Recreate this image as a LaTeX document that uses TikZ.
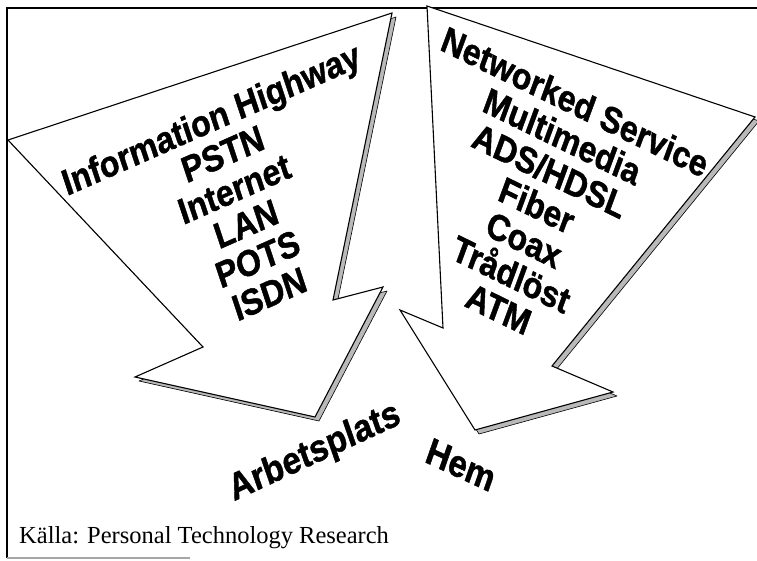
\documentclass[tikz,border=0pt]{standalone}
\usepackage{fontspec}
\setmainfont{Liberation Serif}
\newfontfamily\arialfont{Liberation Sans}[BoldFeatures={FakeBold=1.3}]
\usetikzlibrary{positioning}

\tikzset{
  shadowpoly/.style={fill=gray!55, draw=black, line width=0.6pt, line join=round},
  arrowpoly/.style={fill=white, draw=black, line width=1.1pt, line join=miter},
  bigtext/.style={font=\arialfont\bfseries\fontsize{32}{32.6}\selectfont, align=center, inner sep=0pt},
}

\begin{document}
\begin{tikzpicture}[x=1pt,y=-1pt]
\useasboundingbox (0,0) rectangle (757,561);

%% frame
\draw[line width=1.2pt] (757,8) -- (7,8) -- (7,558);
\draw[line width=1.2pt, gray!70] (7,558) -- (190,558);

%% shadows
\begin{scope}[shift={(4,4)}]
\draw[shadowpoly] (8,140) -- (392,13) -- (333,300) -- (383,287) -- (315,417) -- (135,377) -- (203,347) -- cycle;
\draw[shadowpoly] (427,6) -- (755,117) -- (552,366) -- (613,392) -- (475,430) -- (400,310) -- (443,328) -- cycle;
\end{scope}

%% arrows
\draw[arrowpoly] (8,140) -- (392,13) -- (333,300) -- (383,287) -- (315,417) -- (135,377) -- (203,347) -- cycle;
\draw[arrowpoly] (427,6) -- (755,117) -- (552,366) -- (613,392) -- (475,430) -- (400,310) -- (443,328) -- cycle;

% labels
\node[bigtext, yscale=1.15, rotate=21] (work) at (240,206)
  {Information Highway\\PSTN\\Internet\\LAN\\POTS\\ISDN};
\node[bigtext, yscale=1.15, rotate=-23] (home) at (537,205)
  {Networked Service\\Multimedia\\ADS/HDSL\\Fiber\\Coax\\Trådlöst\\ATM};

\node[bigtext, yscale=1.15, rotate=22, font=\arialfont\bfseries\fontsize{33}{34}\selectfont] (arbetsplats) at (315,453) {Arbetsplats};
\node[bigtext, yscale=1.15, rotate=-22, font=\arialfont\bfseries\fontsize{33}{34}\selectfont] (hem) at (461,465) {Hem};

\node[anchor=west, inner sep=0pt, font=\fontsize{24.5}{28}\selectfont] (source) at (19,538) {Källa: Personal Technology Research};
\end{tikzpicture}
\end{document}
